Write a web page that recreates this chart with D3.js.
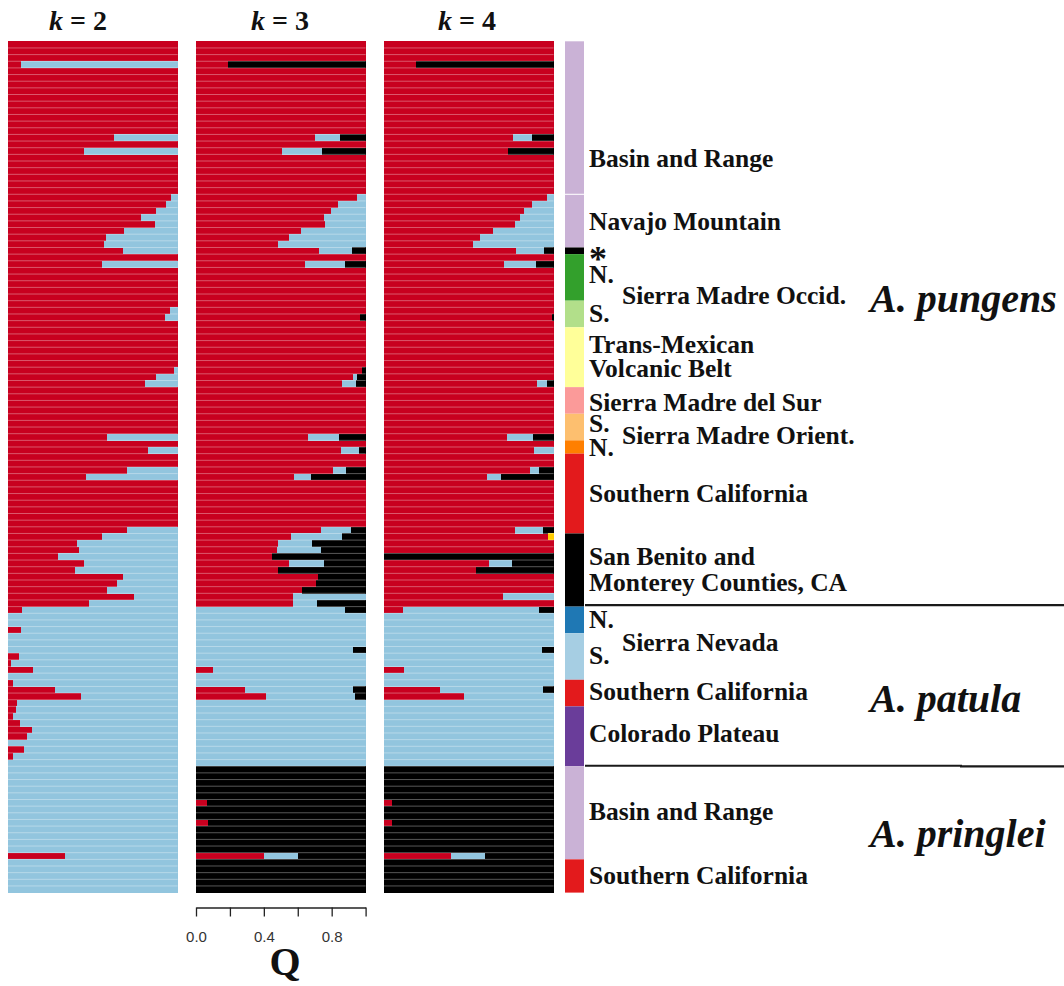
<!DOCTYPE html>
<html><head><meta charset="utf-8">
<script src="https://cdn.jsdelivr.net/npm/d3@7"></script>
<style>
html,body{margin:0;padding:0;background:#fff;}
svg{display:block;}
</style></head>
<body>
<svg id="chart" width="1064" height="986"></svg>
<script>
// ---------------- DATA ----------------
const clusterColors = ["#c8001f", "#92c5de", "#000000", "#ffcc00"]; // red, light blue, black, yellow

const panelTitles = ["2", "3", "4"];

// Population groups (top to bottom) and number of individuals in each
const groupNames = ["Basin and Range","Navajo Mountain","*","N. Sierra Madre Occid.","S. Sierra Madre Occid.",
  "Trans-Mexican Volcanic Belt","Sierra Madre del Sur","S. Sierra Madre Orient.","N. Sierra Madre Orient.",
  "Southern California","San Benito and Monterey Counties, CA",
  "N. Sierra Nevada","S. Sierra Nevada","Southern California","Colorado Plateau",
  "Basin and Range","Southern California"];
const groupCounts = [23,8,1,7,4,9,4,4,2,12,11, 4,7,4,9, 14,5];
const groupColors = ["#cab2d6","#cab2d6","#000000","#33a02c","#b2df8a","#ffff99","#fb9a99","#fdbf6f","#ff7f00",
  "#e31a1c","#000000","#1f78b4","#a6cee3","#e31a1c","#6a3d9a","#cab2d6","#e31a1c"];

const species = ["A. pungens","A. patula","A. pringlei"];

// k = 2 : proportion of cluster 1 (red); remainder is cluster 2 (light blue)
const k2Red = [
 // Basin and Range (23)
 1,1,1,0.076,1,1,1,1,1,1,1,1,1,1,0.626,1,0.45,1,1,1,1,1,1,
 // Navajo Mountain (8)
 0.96,0.93,0.873,0.784,0.867,0.683,0.575,0.564,
 // * (1)
 0.68,
 // N. Sierra Madre Occid. (7)
 1,0.554,1,1,1,1,1,
 // S. Sierra Madre Occid. (4)
 1,0.953,0.924,1,
 // Trans-Mexican Volcanic Belt (9)
 1,1,1,1,1,1,0.979,0.871,0.805,
 // Sierra Madre del Sur (4)
 1,1,1,1,
 // S. Sierra Madre Orient. (4)
 1,1,1,0.586,
 // N. Sierra Madre Orient. (2)
 1,0.824,
 // Southern California (12)
 1,1,0.70,0.459,1,1,1,1,1,1,1,0.70,
 // San Benito and Monterey (11)
 0.556,0.406,0.419,0.294,0.448,0.395,0.677,0.645,0.584,0.744,0.48,
 // A. patula N. Sierra Nevada (4)
 0.08,0,0,0.076,
 // S. Sierra Nevada (7)
 0,0,0,0.066,0.017,0.15,0,
 // Southern California (4)
 0.03,0.28,0.433,0.055,
 // Colorado Plateau (9)
 0.047,0.027,0.072,0.144,0.11,0,0.097,0.027,0,
 // A. pringlei Basin and Range (14)
 0,0,0,0,0,0,0,0,0,0,0,0,0,0.338,
 // Southern California (5)
 0,0,0,0,0
];

// k = 3 : [red, light blue, black]
const k3Q = [
 // Basin and Range (23)
 [1,0,0],[1,0,0],[1,0,0],[0.19,0,0.81],[1,0,0],[1,0,0],[1,0,0],[1,0,0],[1,0,0],[1,0,0],[1,0,0],[1,0,0],
 [1,0,0],[1,0,0],[0.70,0.15,0.15],[1,0,0],[0.51,0.233,0.257],[1,0,0],[1,0,0],[1,0,0],[1,0,0],[1,0,0],[1,0,0],
 // Navajo Mountain (8)
 [0.949,0.051,0],[0.84,0.16,0],[0.795,0.205,0],[0.755,0.245,0],[0.76,0.24,0],[0.62,0.38,0],[0.546,0.454,0],[0.483,0.517,0],
 // * (1)
 [0.728,0.192,0.08],
 // N. SMOcc (7)
 [1,0,0],[0.641,0.239,0.12],[1,0,0],[1,0,0],[1,0,0],[1,0,0],[1,0,0],
 // S. SMOcc (4)
 [1,0,0],[1,0,0],[0.968,0,0.032],[1,0,0],
 // TMVB (9)
 [1,0,0],[1,0,0],[1,0,0],[1,0,0],[1,0,0],[1,0,0],[0.979,0,0.021],[0.928,0.023,0.049],[0.859,0.084,0.057],
 // SMdS (4)
 [1,0,0],[1,0,0],[1,0,0],[1,0,0],
 // S. SMOr (4)
 [1,0,0],[1,0,0],[1,0,0],[0.66,0.184,0.156],
 // N. SMOr (2)
 [1,0,0],[0.854,0.106,0.04],
 // Southern California (12)
 [1,0,0],[1,0,0],[0.806,0.08,0.114],[0.576,0.105,0.319],[1,0,0],[1,0,0],[1,0,0],[1,0,0],[1,0,0],[1,0,0],[1,0,0],[0.736,0.18,0.084],
 // San Benito (11)
 [0.561,0.298,0.141],[0.485,0.199,0.316],[0.475,0.263,0.262],[0.449,0,0.551],[0.546,0.209,0.245],[0.483,0,0.517],
 [0.719,0,0.281],[0.709,0,0.291],[0.627,0,0.373],[0.57,0.43,0],[0.57,0.143,0.287],
 // patula N. SN (4)
 [0,0.88,0.12],[0,1,0],[0,1,0],[0,1,0],
 // S. SN (7)
 [0,1,0],[0,1,0],[0,0.924,0.076],[0,1,0],[0,1,0],[0.103,0.897,0],[0,1,0],
 // Southern California (4)
 [0,1,0],[0.289,0.637,0.074],[0.413,0.526,0.061],[0,1,0],
 // Colorado Plateau (9)
 [0,1,0],[0,1,0],[0,1,0],[0,1,0],[0,1,0],[0,1,0],[0,1,0],[0,1,0],[0,1,0],
 // pringlei Basin and Range (14)
 [0,0,1],[0,0,1],[0,0,1],[0,0,1],[0,0,1],[0.063,0,0.937],[0,0,1],[0,0,1],[0.072,0,0.928],[0,0,1],[0,0,1],[0,0,1],[0,0,1],[0.398,0.203,0.399],
 // Southern California (5)
 [0,0,1],[0,0,1],[0,0,1],[0,0,1],[0,0,1]
];

// k = 4 : [red, light blue, black, yellow]
const k4Q = [
 // Basin and Range (23)
 [1,0,0,0],[1,0,0,0],[1,0,0,0],[0.186,0,0.814,0],[1,0,0,0],[1,0,0,0],[1,0,0,0],[1,0,0,0],[1,0,0,0],[1,0,0,0],[1,0,0,0],[1,0,0,0],
 [1,0,0,0],[1,0,0,0],[0.76,0.113,0.127,0],[1,0,0,0],[0.73,0,0.27,0],[1,0,0,0],[1,0,0,0],[1,0,0,0],[1,0,0,0],[1,0,0,0],[1,0,0,0],
 // Navajo Mountain (8)
 [0.964,0.036,0,0],[0.871,0.129,0,0],[0.824,0.176,0,0],[0.80,0.20,0,0],[0.772,0.228,0,0],[0.64,0.36,0,0],[0.564,0.436,0,0],[0.526,0.474,0,0],
 // * (1)
 [0.778,0.165,0.057,0],
 // N. SMOcc (7)
 [1,0,0,0],[0.71,0.186,0.104,0],[1,0,0,0],[1,0,0,0],[1,0,0,0],[1,0,0,0],[1,0,0,0],
 // S. SMOcc (4)
 [1,0,0,0],[1,0,0,0],[0.99,0,0.01,0],[1,0,0,0],
 // TMVB (9)
 [1,0,0,0],[1,0,0,0],[1,0,0,0],[1,0,0,0],[1,0,0,0],[1,0,0,0],[1,0,0,0],[1,0,0,0],[0.903,0.061,0.036,0],
 // SMdS (4)
 [1,0,0,0],[1,0,0,0],[1,0,0,0],[1,0,0,0],
 // S. SMOr (4)
 [1,0,0,0],[1,0,0,0],[1,0,0,0],[0.723,0.154,0.123,0],
 // N. SMOr (2)
 [1,0,0,0],[0.886,0.114,0,0],
 // Southern California (12)
 [1,0,0,0],[1,0,0,0],[0.858,0.055,0.087,0],[0.609,0.082,0.309,0],[1,0,0,0],[1,0,0,0],[1,0,0,0],[1,0,0,0],[1,0,0,0],[1,0,0,0],[1,0,0,0],[0.774,0.165,0.061,0],
 // San Benito (11)
 [0.968,0,0,0.032],[1,0,0,0],[1,0,0,0],[0,0,1,0],[0.622,0.133,0.245,0],[0.541,0,0.459,0],
 [1,0,0,0],[1,0,0,0],[1,0,0,0],[0.702,0.298,0,0],[1,0,0,0],
 // patula N. SN (4)
 [0.112,0.801,0.087,0],[0,1,0,0],[0,1,0,0],[0,1,0,0],
 // S. SN (7)
 [0,1,0,0],[0,1,0,0],[0,0.93,0.07,0],[0,1,0,0],[0,1,0,0],[0.118,0.882,0,0],[0,1,0,0],
 // Southern California (4)
 [0,1,0,0],[0.328,0.612,0.06,0],[0.469,0.531,0,0],[0,1,0,0],
 // Colorado Plateau (9)
 [0,1,0,0],[0,1,0,0],[0,1,0,0],[0,1,0,0],[0,1,0,0],[0,1,0,0],[0,1,0,0],[0,1,0,0],[0,1,0,0],
 // pringlei Basin and Range (14)
 [0,0,1,0],[0,0,1,0],[0,0,1,0],[0,0,1,0],[0,0,1,0],[0.047,0,0.953,0],[0,0,1,0],[0,0,1,0],[0.047,0,0.953,0],[0,0,1,0],[0,0,1,0],[0,0,1,0],[0,0,1,0],[0.395,0.203,0.402,0],
 // Southern California (5)
 [0,0,1,0],[0,0,1,0],[0,0,1,0],[0,0,1,0],[0,0,1,0]
];

const axisTicks = [0, 0.2, 0.4, 0.6, 0.8, 1.0];
const axisTickLabels = ["0.0", "", "0.4", "", "0.8", ""];

// ---------------- LAYOUT ----------------
const svg = d3.select("#chart");
const N = k2Red.length;
const rowsTop = 41.3, rowsBottom = 892.6;
const panelLeft = [8, 196, 384], panelWidth = 169.6;
const y = d3.scaleBand().domain(d3.range(N)).range([rowsTop, rowsBottom]).paddingInner(0).paddingOuter(0);

const k2Table = k2Red.map((r, i) => ({i, c0: r, c1: 1 - r, c2: 0, c3: 0}));
const k3Table = k3Q.map((q, i) => ({i, c0: q[0], c1: q[1], c2: q[2], c3: 0}));
const k4Table = k4Q.map((q, i) => ({i, c0: q[0], c1: q[1], c2: q[2], c3: q[3]}));
const tables = [k2Table, k3Table, k4Table];
const keys = ["c0","c1","c2","c3"];
const serif = "'Liberation Serif','Times New Roman',serif";

tables.forEach((tbl, p) => {
  const x = d3.scaleLinear().domain([0,1]).range([panelLeft[p], panelLeft[p] + panelWidth]);
  const series = d3.stack().keys(keys)(tbl);
  const g = svg.append("g");
  series.forEach((s, k) => {
    g.append("g").attr("fill", clusterColors[k])
      .selectAll("rect").data(s.filter(d => d[1] - d[0] > 0)).join("rect")
      .attr("x", d => x(d[0]))
      .attr("y", d => y(d.data.i))
      .attr("width", d => x(d[1]) - x(d[0]))
      .attr("height", y.bandwidth() + 0.2)
      .attr("shape-rendering", "crispEdges");
  });
  // thin light separators between individuals
  g.append("g").selectAll("line").data(d3.range(1, N)).join("line")
    .attr("x1", x(0)).attr("x2", x(1))
    .attr("y1", i => y(i)).attr("y2", i => y(i))
    .attr("stroke", "#ffffff").attr("stroke-opacity", 0.38).attr("stroke-width", 0.9);

  // panel title  "k = n"
  const titleX = [78, 280, 467][p];
  const t = svg.append("text").attr("x", titleX).attr("y", 30)
    .attr("text-anchor", "middle").attr("font-family", serif)
    .attr("font-weight", "bold").attr("font-size", 28).attr("fill", "#111");
  t.append("tspan").attr("font-style", "italic").text("k");
  t.append("tspan").text(" = " + panelTitles[p]);
});

// axis under k = 3
const xAxisScale = d3.scaleLinear().domain([0,1]).range([panelLeft[1], panelLeft[1] + panelWidth]);
const axisG = svg.append("g").attr("transform", "translate(0,907.5)")
  .call(d3.axisBottom(xAxisScale).tickValues(axisTicks).tickSize(9).tickSizeOuter(0).tickPadding(15)
    .tickFormat((d, i) => axisTickLabels[i]));
axisG.select(".domain").attr("stroke", "#222").attr("stroke-width", 1.3);
axisG.selectAll(".tick line").attr("stroke", "#222").attr("stroke-width", 1.3);
axisG.selectAll(".tick text").attr("font-family", "'Liberation Sans',Arial,sans-serif").attr("font-size", 15).attr("fill", "#333");

svg.append("text").attr("x", 285).attr("y", 975).attr("text-anchor", "middle")
  .attr("font-family", serif).attr("font-weight", "bold").attr("font-size", 40).attr("fill", "#111").text("Q");

// colour sidebar
const starts = [0, ...d3.cumsum(groupCounts)];
const sb = svg.append("g");
sb.selectAll("rect").data(groupCounts).join("rect")
  .attr("x", 565).attr("width", 19)
  .attr("y", (d, i) => y(starts[i]))
  .attr("height", (d, i) => (starts[i + 1] < N ? y(starts[i + 1]) : rowsBottom) - y(starts[i]))
  .attr("fill", (d, i) => groupColors[i]);
// thin white split between Basin and Range / Navajo Mountain
sb.append("line").attr("x1", 565).attr("x2", 584).attr("y1", y(starts[1])).attr("y2", y(starts[1]))
  .attr("stroke", "#fff").attr("stroke-width", 1);

// species separators
svg.append("line").attr("x1", 585).attr("x2", 1064).attr("y1", y(starts[11]) - 1.5).attr("y2", y(starts[11]) - 1.5)
  .attr("stroke", "#1a1a1a").attr("stroke-width", 2.2);
svg.append("line").attr("x1", 585).attr("x2", 962).attr("y1", y(starts[15]) - 0.5).attr("y2", y(starts[15]) - 0.5)
  .attr("stroke", "#1a1a1a").attr("stroke-width", 2.2);
svg.append("line").attr("x1", 960).attr("x2", 1064).attr("y1", y(starts[15]) + 0.2).attr("y2", y(starts[15]) + 0.2)
  .attr("stroke", "#1a1a1a").attr("stroke-width", 2.2);

// region labels: [text, x, baseline, size]
const labelLayout = [
  ["Basin and Range", 589, 166.5, 25.5],
  ["Navajo Mountain", 589, 229.5, 25.5],
  ["*", 589, 271, 36],
  ["N.", 589, 283, 25.5],
  ["Sierra Madre Occid.", 622, 304, 25.5],
  ["S.", 589, 321.5, 25.5],
  ["Trans-Mexican", 589, 353, 25.5],
  ["Volcanic Belt", 589, 377, 25.5],
  ["Sierra Madre del Sur", 589, 410.5, 25.5],
  ["S.", 589, 431.5, 25.5],
  ["Sierra Madre Orient.", 622, 444, 25.5],
  ["N.", 589, 455.5, 25.5],
  ["Southern California", 589, 502, 25.5],
  ["San Benito and", 589, 565, 25.5],
  ["Monterey Counties, CA", 589, 591, 25.5],
  ["N.", 589, 627.5, 25.5],
  ["Sierra Nevada", 622, 651, 25.5],
  ["S.", 589, 664, 25.5],
  ["Southern California", 589, 700, 25.5],
  ["Colorado Plateau", 589, 742, 25.5],
  ["Basin and Range", 589, 820, 25.5],
  ["Southern California", 589, 884, 25.5]
];
svg.append("g").selectAll("text").data(labelLayout).join("text")
  .attr("x", d => d[1]).attr("y", d => d[2])
  .attr("font-family", serif).attr("font-weight", "bold").attr("font-size", d => d[3]).attr("fill", "#111")
  .text(d => d[0]);

const speciesLayout = [[870, 312], [870, 712], [870, 847]];
svg.append("g").selectAll("text").data(species).join("text")
  .attr("x", (d, i) => speciesLayout[i][0]).attr("y", (d, i) => speciesLayout[i][1])
  .attr("font-family", serif).attr("font-weight", "bold").attr("font-style", "italic")
  .attr("font-size", 40).attr("fill", "#111").text(d => d);
</script>
</body></html>
